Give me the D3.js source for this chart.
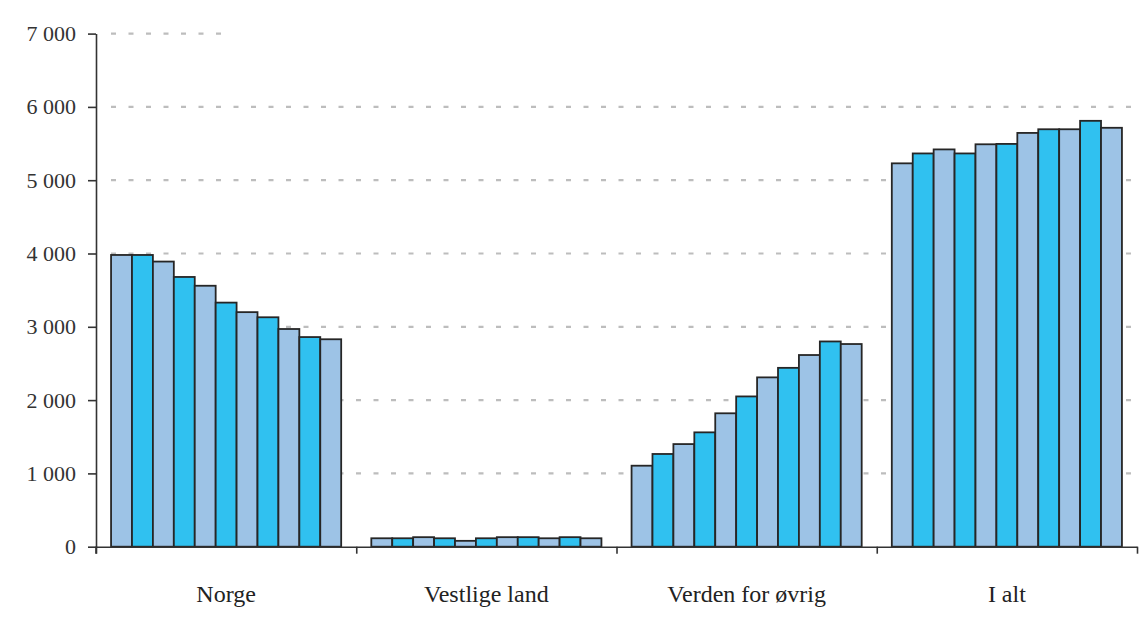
<!DOCTYPE html>
<html>
<head>
<meta charset="utf-8">
<script src="https://cdn.jsdelivr.net/npm/d3@7"></script>
<style>
  body { margin: 0; background: #fff; }
  text { font-family: "Liberation Serif", "Times New Roman", serif; }
</style>
</head>
<body>
<div id="chart"></div>
<script>
// Data
const groups = ["Norge", "Vestlige land", "Verden for øvrig", "I alt"];
const periods = d3.range(11);
const norge = [3980, 3980, 3890, 3680, 3560, 3330, 3200, 3130, 2970, 2860, 2830];
const vestlige = [115, 115, 130, 115, 80, 115, 130, 130, 115, 130, 115];
const verden = [1105, 1265, 1400, 1560, 1820, 2050, 2310, 2440, 2615, 2800, 2765];
const ialt = [5230, 5365, 5420, 5365, 5490, 5495, 5645, 5695, 5695, 5810, 5715];
const yTicks = [0, 1000, 2000, 3000, 4000, 5000, 6000, 7000];

const seriesByGroup = [norge, vestlige, verden, ialt];
const colors = ["#9dc3e6", "#30c1f0"];

const width = 1144;
const height = 643;

const svg = d3
  .select("#chart")
  .append("svg")
  .attr("width", width)
  .attr("height", height);

// Scales
const y = d3.scaleLinear().domain([0, 7000]).range([546.7, 33.6]);

const x0 = d3.scaleBand().domain(groups).range([96, 1137]).padding(0);

const x1 = d3
  .scaleBand()
  .domain(periods)
  .range([0, x0.bandwidth()])
  .paddingInner(0)
  .paddingOuter(0.72);

const locale = d3.formatLocale({ decimal: ",", thousands: " ", grouping: [3] });
const fmt = locale.format(",");

// Gridlines
svg
  .append("g")
  .selectAll("line")
  .data(yTicks.filter((d) => d > 0))
  .enter()
  .append("line")
  .attr("x1", 111)
  .attr("x2", 1142)
  .attr("y1", (d) => y(d))
  .attr("y2", (d) => y(d))
  .attr("stroke", "#bdbdbd")
  .attr("stroke-width", 2.2)
  .attr("stroke-dasharray", "5,12.5");

// blank patch over the top gridline (as in the source)
svg
  .append("rect")
  .attr("x", 224)
  .attr("y", 24)
  .attr("width", 920)
  .attr("height", 20)
  .attr("fill", "#fff");

// Bars
const groupSel = svg
  .selectAll(".group")
  .data(groups)
  .enter()
  .append("g")
  .attr("class", "group")
  .attr("transform", (g) => `translate(${x0(g)},0)`);

groupSel
  .selectAll("rect")
  .data((g, i) => seriesByGroup[i].map((v, j) => ({ p: periods[j], v })))
  .enter()
  .append("rect")
  .attr("x", (d) => x1(d.p))
  .attr("y", (d) => y(d.v))
  .attr("width", x1.bandwidth())
  .attr("height", (d) => y(0) - y(d.v))
  .attr("fill", (d) => colors[d.p % 2])
  .attr("stroke", "#262626")
  .attr("stroke-width", 1.8);

// Y axis
const yAxis = d3
  .axisLeft(y)
  .tickValues(yTicks)
  .tickFormat(fmt)
  .tickSize(8)
  .tickSizeOuter(0)
  .tickPadding(12);

const yG = svg.append("g").attr("transform", "translate(96,0)").call(yAxis);
yG.select(".domain").attr("stroke", "#333").attr("stroke-width", 1.6);
yG.selectAll(".tick line").attr("stroke", "#333").attr("stroke-width", 1.6);
yG.selectAll(".tick text")
  .attr("fill", "#333")
  .style("font-size", "22px");
yG.append("line")
  .attr("x1", 0)
  .attr("x2", 0)
  .attr("y1", y(0))
  .attr("y2", y(0) + 7)
  .attr("stroke", "#333")
  .attr("stroke-width", 1.6);

// X axis: ticks on the group boundaries
const xb = d3.scaleLinear().domain([0, groups.length]).range([96, 1137]);
const xAxis = d3
  .axisBottom(xb)
  .tickValues(d3.range(groups.length + 1))
  .tickFormat("")
  .tickSize(7)
  .tickSizeOuter(0);

const xG = svg
  .append("g")
  .attr("transform", `translate(0,${y(0)})`)
  .call(xAxis);
xG.select(".domain").attr("stroke", "#333").attr("stroke-width", 1.6);
xG.selectAll(".tick line").attr("stroke", "#333").attr("stroke-width", 1.6);

// Category labels
svg
  .append("g")
  .selectAll("text")
  .data(groups)
  .enter()
  .append("text")
  .attr("x", (g) => x0(g) + x0.bandwidth() / 2)
  .attr("y", 602)
  .attr("text-anchor", "middle")
  .attr("fill", "#222")
  .style("font-size", "24px")
  .text((g) => g);
</script>
</body>
</html>
